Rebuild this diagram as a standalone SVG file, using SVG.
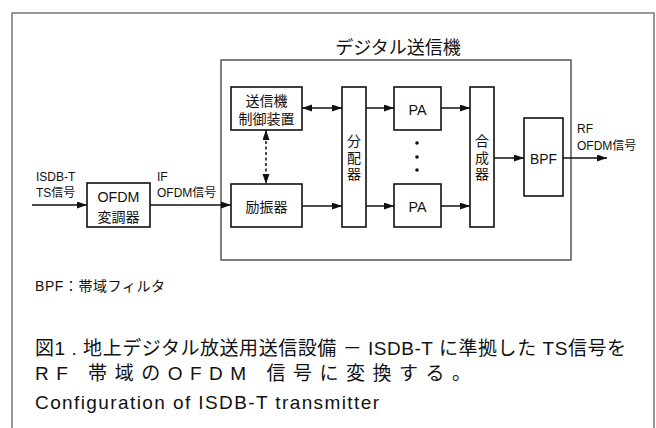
<svg xmlns="http://www.w3.org/2000/svg" width="656" height="428" viewBox="0 0 656 428">
<style>
text{font-family:"Liberation Sans","Noto Sans CJK JP",sans-serif;fill:#111}
.box{fill:#fff;stroke:#111;stroke-width:1.6}
.frame{fill:none;stroke:#555;stroke-width:1.5}
.outer{fill:none;stroke:#808080;stroke-width:1.6}
.ln{stroke:#111;stroke-width:1.5;fill:none}
.lbl{font-size:12px}
.nd{font-size:14px;text-anchor:middle}
.cap{font-size:19px}
</style>
<defs>
<marker id="ah" markerUnits="userSpaceOnUse" markerWidth="11" markerHeight="8" refX="10" refY="3.5" orient="auto-start-reverse">
<path d="M0,0 L10,3.5 L0,7 z" fill="#111"/>
</marker>
</defs>
<rect class="outer" x="12" y="13" width="642" height="430"/>
<g id="tx-frame">
<rect class="frame" x="221" y="60" width="350" height="200"/>
<text x="398" y="54" font-size="18" text-anchor="middle">デジタル送信機</text>
</g>
<g id="ofdm-mod">
<rect class="box" x="87" y="183" width="63" height="44"/>
<text class="nd" x="118.5" y="202" font-size="16" textLength="42" lengthAdjust="spacingAndGlyphs">OFDM</text>
<text class="nd" x="118.5" y="222" font-size="14.5">変調器</text>
</g>
<g id="ctrl">
<rect class="box" x="231" y="87" width="71" height="43"/>
<text class="nd" x="266.5" y="106">送信機</text>
<text class="nd" x="266.5" y="124">制御装置</text>
</g>
<g id="exciter">
<rect class="box" x="231" y="184" width="71" height="43"/>
<text class="nd" x="266.5" y="211.5" font-size="17">励振器</text>
</g>
<g id="divider">
<rect class="box" x="342" y="87" width="24" height="140"/>
<text class="nd" x="354" y="146" font-size="15">分</text>
<text class="nd" x="354" y="163" font-size="15">配</text>
<text class="nd" x="354" y="179" font-size="15">器</text>
</g>
<g id="pa1">
<rect class="box" x="394" y="87" width="47" height="43"/>
<text class="nd" x="417.5" y="114.5" font-size="16.5" textLength="18" lengthAdjust="spacingAndGlyphs">PA</text>
</g>
<g id="pa2">
<rect class="box" x="394" y="184" width="47" height="43"/>
<text class="nd" x="417.5" y="211.5" font-size="16.5" textLength="18" lengthAdjust="spacingAndGlyphs">PA</text>
</g>
<g id="dots">
<circle cx="417" cy="143" r="1.8" fill="#111"/>
<circle cx="417" cy="157" r="1.8" fill="#111"/>
<circle cx="417" cy="170" r="1.8" fill="#111"/>
</g>
<g id="combiner">
<rect class="box" x="470" y="87" width="24" height="140"/>
<text class="nd" x="482" y="146" font-size="15">合</text>
<text class="nd" x="482" y="163" font-size="15">成</text>
<text class="nd" x="482" y="179" font-size="15">器</text>
</g>
<g id="bpf">
<rect class="box" x="524" y="118" width="39" height="78"/>
<text class="nd" x="543.5" y="163.5" font-size="16.5" textLength="27" lengthAdjust="spacingAndGlyphs">BPF</text>
</g>
<g id="connectors">
<line class="ln" x1="32" y1="205" x2="87" y2="205" marker-end="url(#ah)"/>
<line class="ln" x1="150" y1="205" x2="231" y2="205" marker-end="url(#ah)"/>
<line class="ln" x1="302" y1="206" x2="342" y2="206" marker-end="url(#ah)"/>
<line class="ln" x1="302" y1="108" x2="342" y2="108" marker-start="url(#ah)" marker-end="url(#ah)"/>
<line class="ln" x1="266" y1="130" x2="266" y2="184" stroke-dasharray="3,2.5" marker-start="url(#ah)" marker-end="url(#ah)"/>
<line class="ln" x1="366" y1="108" x2="394" y2="108" marker-end="url(#ah)"/>
<line class="ln" x1="366" y1="206" x2="394" y2="206" marker-end="url(#ah)"/>
<line class="ln" x1="441" y1="108" x2="470" y2="108" marker-end="url(#ah)"/>
<line class="ln" x1="441" y1="206" x2="470" y2="206" marker-end="url(#ah)"/>
<line class="ln" x1="494" y1="158" x2="524" y2="158" marker-end="url(#ah)"/>
<line class="ln" x1="563" y1="158" x2="607" y2="158" marker-end="url(#ah)"/>
</g>
<g id="labels">
<text class="lbl" x="36" y="181">ISDB-T</text>
<text class="lbl" x="36" y="197">TS信号</text>
<text class="lbl" x="157" y="181">IF</text>
<text class="lbl" x="157" y="197">OFDM信号</text>
<text class="lbl" x="577" y="133">RF</text>
<text class="lbl" x="577" y="150">OFDM信号</text>
<text x="35" y="291" font-size="14" textLength="130" lengthAdjust="spacing">BPF：帯域フィルタ</text>
</g>
<g id="caption">
<text class="cap" x="35" y="355" textLength="591" lengthAdjust="spacing">図1 . 地上デジタル放送用送信設備 － ISDB-T に準拠した TS信号を</text>
<text class="cap" x="35" y="380" textLength="436" lengthAdjust="spacing">RF 帯域のOFDM 信号に変換する。</text>
<text class="cap" x="35" y="409" textLength="344" lengthAdjust="spacing">Configuration of ISDB-T transmitter</text>
</g>
</svg>
